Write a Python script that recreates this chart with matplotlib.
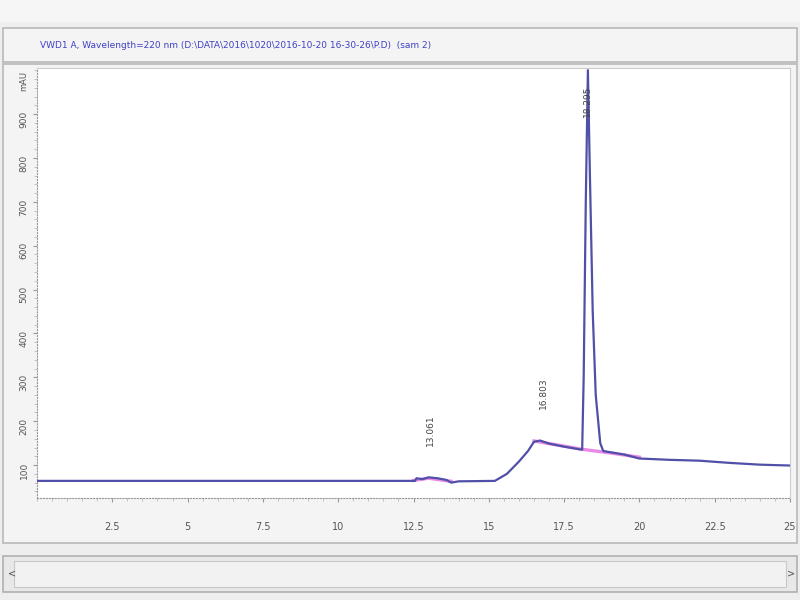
import matplotlib
matplotlib.use("Agg")
import matplotlib.pyplot as plt
from matplotlib.patches import Rectangle

# ---- data ----
time_min = [0.0, 5.0, 10.0, 12.4, 12.55, 12.6, 12.8, 13.0, 13.3, 13.6, 13.75, 14.0, 15.2,
            15.6, 16.0, 16.3, 16.5, 16.7, 17.0, 17.5, 18.1, 18.15, 18.22, 18.29,
            18.36, 18.45, 18.55, 18.7, 18.8, 19.5, 20.0, 21.0, 22.0, 23.0, 24.0, 25.0]
signal_mau = [64, 64, 64, 64, 64, 70, 68, 72, 70, 66, 60, 63, 64,
              80, 108, 132, 153, 156, 149, 142, 135, 300, 700, 1000,
              750, 450, 260, 150, 132, 124, 115, 112, 110, 105, 101, 99]

baseline1_t = [12.5, 13.0, 13.75]
baseline1_y = [65, 70, 63]
baseline2_t = [16.5, 18.1, 19.0, 20.0]
baseline2_y = [155, 136, 128, 118]

peak_times = [13.06, 16.80, 18.29]
peak_labels = ["13.061", "16.803", "18.295"]
peak_label_y = [180, 265, 930]

x_ticks = [2.5, 5, 7.5, 10, 12.5, 15, 17.5, 20, 22.5, 25]
x_ticklabels = ["2.5", "5", "7.5", "10", "12.5", "15", "17.5", "20", "22.5", "25"]
y_ticks = [100, 200, 300, 400, 500, 600, 700, 800, 900]
y_ticklabels = ["100", "200", "300", "400", "500", "600", "700", "800", "900"]
title_text = "VWD1 A, Wavelength=220 nm (D:\\DATA\\2016\\1020\\2016-10-20 16-30-26\\P.D)  (sam 2)"

fig = plt.figure(figsize=(8, 6), dpi=100)
fig.patch.set_facecolor("#eeeeee")

def frac_rect(x0, y0, x1, y1, **kw):
    r = Rectangle((x0 / 800, 1 - y1 / 600), (x1 - x0) / 800, (y1 - y0) / 600,
                  transform=fig.transFigure, zorder=-5, **kw)
    fig.patches.append(r)

frac_rect(0, 0, 800, 22, facecolor="#f6f6f6", edgecolor="none")
frac_rect(3, 28, 797, 62, facecolor="#f4f4f4", edgecolor="#b8b8b8", lw=1.2)
frac_rect(3, 64, 797, 543, facecolor="#f4f4f4", edgecolor="#b8b8b8", lw=1.2)
frac_rect(3, 556, 797, 592, facecolor="#e8e8e8", edgecolor="#b0b0b0", lw=1.2)
frac_rect(14, 561, 786, 587, facecolor="#f2f2f2", edgecolor="#c8c8c8", lw=0.8)
fig.text(8 / 800, 1 - 574 / 600, "<", fontsize=7, color="#555555", va="center")
fig.text(787 / 800, 1 - 574 / 600, ">", fontsize=7, color="#555555", va="center")

fig.text(40 / 800, 1 - 45 / 600, title_text, fontsize=6.5, color="#4040c8", va="center")

ax = fig.add_axes([37 / 800, 1 - 498 / 600, (790 - 37) / 800, (498 - 68) / 600])
ax.set_zorder(2)
ax.set_facecolor("white")
ax.set_xlim(0, 25)
ax.set_ylim(25, 1005)

ax.plot(baseline1_t, baseline1_y, color="#e36ee3", lw=2.4, alpha=0.8, zorder=2)
ax.plot(baseline2_t, baseline2_y, color="#e36ee3", lw=2.4, alpha=0.8, zorder=2)
ax.plot(time_min, signal_mau, color="#5050a8", lw=1.6, zorder=3)

for t, lab, yy in zip(peak_times, peak_labels, peak_label_y):
    ax.text(t, yy, lab, rotation=90, fontsize=6.5, color="#444444", ha="center", va="center")

ax.set_xticks(x_ticks)
ax.set_xticklabels(x_ticklabels, fontsize=7, color="#555555")
ax.set_yticks(y_ticks)
ax.set_yticklabels(y_ticklabels, fontsize=6.5, color="#555555")
ax.text(-0.3, 975, "mAU", rotation=90, fontsize=6, color="#555555", ha="right", va="center")
ax.tick_params(axis="x", length=3, color="#999999", pad=14)
ax.tick_params(axis="y", length=3, color="#999999", pad=3, labelrotation=90)
ax.minorticks_on()
ax.tick_params(which="minor", length=2, color="#bbbbbb")
for s in ["left", "bottom"]:
    ax.spines[s].set_color("#999999")
    ax.spines[s].set_linestyle(":")
for s in ["top", "right"]:
    ax.spines[s].set_color("#cccccc")

fig.savefig("out.png", dpi=100, facecolor=fig.get_facecolor())
